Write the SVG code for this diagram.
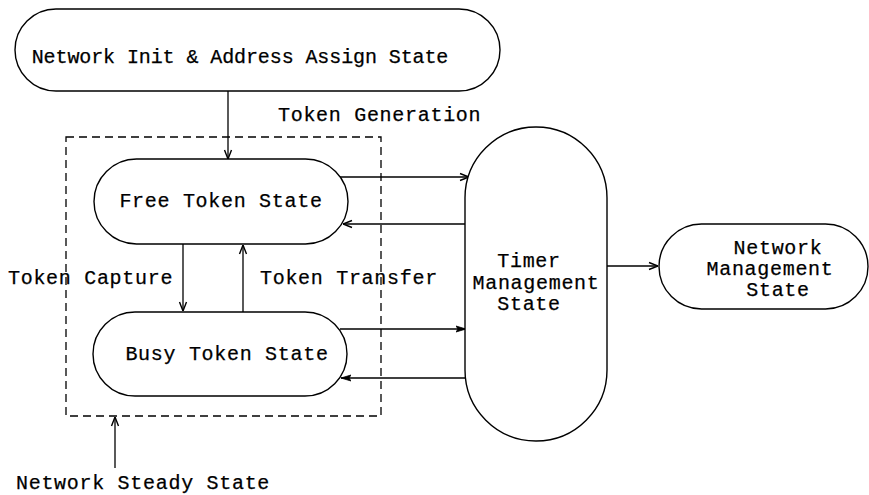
<svg xmlns="http://www.w3.org/2000/svg" width="869" height="495" viewBox="0 0 869 495">
  <defs>
    <style>
      .state { fill: #fff; stroke: #000; stroke-width: 1.4; }
      .lbl { font-family: "Liberation Mono", "DejaVu Sans Mono", monospace; font-size: 20px; letter-spacing: 0.7px; fill: #000; stroke: #000; stroke-width: 0.25; }
      .tight { letter-spacing: -0.1px; }
      .mid { text-anchor: middle; }
      .wire { fill: none; stroke: #000; stroke-width: 1.3; }
      .wire-open { marker-end: url(#chev); }
      .wire-solid { marker-end: url(#solid); }
      .frame { fill: none; stroke: #000; stroke-width: 1.3; stroke-dasharray: 8 5; }
    </style>
    <marker id="chev" viewBox="0 0 10 10" refX="10" refY="5" markerWidth="10" markerHeight="10" markerUnits="userSpaceOnUse" orient="auto">
      <path d="M1,1.5 L10,5 L1,8.5" fill="none" stroke="#000" stroke-width="1.4"/>
    </marker>
    <marker id="solid" viewBox="0 0 10 10" refX="10" refY="5" markerWidth="10" markerHeight="10" markerUnits="userSpaceOnUse" orient="auto">
      <path d="M0,2 L10,5 L0,8 L2,5 Z" fill="#000" stroke="#000" stroke-width="0.8"/>
    </marker>
  </defs>

  <!-- steady-state boundary -->
  <g id="steady-frame">
    <rect class="frame" x="66" y="137" width="315" height="279"/>
  </g>

  <g id="connectors">
    <path class="wire wire-open" d="M228,91 V159"/>
    <path class="wire wire-open" d="M183,244 V311"/>
    <path class="wire wire-open" d="M243,312 V245"/>
    <path class="wire wire-open" d="M340,177 H469"/>
    <path class="wire wire-open" d="M466,224 H343"/>
    <path class="wire wire-solid" d="M340,329 H466"/>
    <path class="wire wire-solid" d="M466,378 H341"/>
    <path class="wire wire-open" d="M607,266 H658"/>
    <path class="wire wire-open" d="M115,468 V417"/>
  </g>

  <g id="init-state">
    <rect class="state" x="15" y="9" width="485" height="82" rx="41" ry="41"/>
    <text class="lbl tight mid" x="240" y="63">Network Init &amp; Address Assign State</text>
  </g>

  <g id="free-token">
    <rect class="state" x="94" y="159" width="254" height="85" rx="42.5" ry="42.5"/>
    <text class="lbl mid" x="221" y="207">Free Token State</text>
  </g>

  <g id="busy-token">
    <rect class="state" x="93" y="312" width="254" height="84" rx="42" ry="42"/>
    <text class="lbl mid" x="227" y="360">Busy Token State</text>
  </g>

  <g id="timer-mgmt">
    <rect class="state" x="465" y="127" width="142" height="314" rx="71" ry="71"/>
    <text class="lbl mid" x="529" y="267">Timer</text>
    <text class="lbl mid" x="536" y="289">Management</text>
    <text class="lbl mid" x="529" y="310">State</text>
  </g>

  <g id="network-mgmt">
    <rect class="state" x="659" y="224" width="209" height="85" rx="42.5" ry="42.5"/>
    <text class="lbl mid" x="778" y="254">Network</text>
    <text class="lbl mid" x="770" y="275">Management</text>
    <text class="lbl mid" x="778" y="296">State</text>
  </g>

  <g id="edge-labels">
    <text class="lbl" x="278" y="121">Token Generation</text>
    <text class="lbl" x="8" y="284">Token Capture</text>
    <text class="lbl" x="260" y="284">Token Transfer</text>
    <text class="lbl" x="16" y="489">Network Steady State</text>
  </g>
</svg>
